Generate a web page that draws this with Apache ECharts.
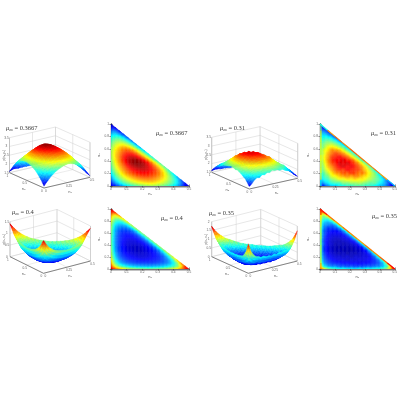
<!DOCTYPE html>
<html><head><meta charset="utf-8">
<style>html,body{margin:0;padding:0;background:#fff}#c{width:400px;height:400px}</style>
<script src="https://cdn.jsdelivr.net/npm/echarts@6/dist/echarts.min.js"></script></head>
<body><div id="c"></div>
<script>
// Rows run from n2=0 upward; each row runs from n1=0 to the hypotenuse. Values: % of colour scale.
const grid3667=[
[5,14,22,29,35,40,44,47,50,52,53,52,50,47,43,38,32,24,14,4],
[14,26,35,43,49,54,58,61,63,65,65,63,60,56,51,45,37,27,14],
[22,35,45,53,59,64,68,71,73,74,73,71,67,62,55,47,37,24],
[29,43,53,61,67,72,76,79,81,81,79,76,71,65,56,45,32],
[35,49,59,67,74,79,83,86,87,86,83,79,73,64,52,38],
[40,54,64,72,79,85,89,91,92,90,86,80,71,59,43],
[44,58,68,76,84,91,95,97,95,91,84,75,63,47],
[47,61,71,80,89,96,99,98,95,88,77,63,46],
[50,63,73,83,91,96,98,95,87,75,60,43],
[52,65,74,84,90,93,91,84,72,57,40],
[53,65,73,81,85,85,80,69,54,36],
[52,63,70,76,78,75,66,52,33],
[50,60,66,70,68,61,48,30],
[47,56,60,60,54,44,27],
[43,50,52,48,39,24],
[38,43,43,35,21],
[31,35,29,18],
[23,24,14],
[13,12],
[4]];
const grid31=[
[8,16,26,32,30,38,36,42,40,46,43,44,40,42,36,33,30,24,14,6],
[18,30,36,42,45,43,52,49,54,52,56,51,49,45,48,39,34,26,14],
[28,38,42,50,54,60,58,64,62,66,61,64,57,54,48,46,36,24],
[32,44,48,60,62,68,71,74,70,75,72,66,64,56,52,42,30],
[38,46,56,64,72,74,80,77,83,80,74,76,66,59,50,36],
[42,52,62,70,78,83,80,88,84,82,80,72,64,54,38],
[46,54,68,74,82,88,92,86,90,84,78,70,58,42],
[44,58,70,80,84,92,88,92,86,80,72,58,42],
[48,60,72,82,88,86,92,84,82,70,56,40],
[50,62,70,82,84,88,82,78,66,54,38],
[48,58,70,76,82,78,74,64,52,36],
[46,60,64,74,72,70,60,48,34],
[44,52,62,64,62,54,46,30],
[42,50,54,56,50,42,28],
[38,44,48,44,38,24],
[32,40,38,34,20],
[30,34,28,18],
[24,24,14],
[16,12],
[6]];
const grid4=[
[94,82,72,65,60,56,54,52,51,50,50,51,52,54,56,60,65,72,82,94],
[82,60,47,40,35,32,30,29,28,28,28,29,30,32,35,40,47,60,82],
[72,47,34,27,23,21,19,18,18,18,18,19,21,23,27,34,47,72],
[65,40,27,21,17,15,14,13,12,13,14,15,17,21,27,40,65],
[60,35,23,17,14,12,10,9,9,10,12,14,17,23,35,60],
[56,32,21,15,12,9,8,7,8,9,12,15,21,32,56],
[54,30,19,14,10,8,6,6,8,10,14,19,30,54],
[52,29,18,13,9,7,6,7,9,13,18,29,52],
[51,28,18,12,9,8,8,9,12,18,28,51],
[50,28,18,13,10,9,10,13,18,28,50],
[50,28,18,14,12,12,14,18,28,50],
[51,29,19,15,14,15,19,29,51],
[52,30,21,18,18,21,30,52],
[54,32,25,23,25,32,54],
[56,35,30,30,35,56],
[60,42,37,42,60],
[65,50,50,65],
[72,60,72],
[82,82],
[94]];
const grid35=[
[92,66,54,46,44,40,42,38,39,36,40,37,41,39,43,42,46,54,68,94],
[66,36,28,24,25,20,21,18,20,17,19,18,21,20,23,25,30,40,68],
[54,28,21,17,15,15,12,14,11,13,10,13,12,15,17,21,30,56],
[46,24,17,13,11,9,11,7,10,8,11,9,12,13,17,25,48],
[44,22,14,11,8,9,6,9,5,9,7,10,9,14,23,46],
[42,20,12,8,6,4,7,3,6,4,7,8,12,20,44],
[42,18,11,7,4,6,3,5,3,6,6,11,18,42],
[40,18,12,6,5,3,6,4,5,6,10,18,42],
[42,20,10,8,4,6,4,6,7,10,18,42],
[40,18,12,7,6,5,7,8,12,18,42],
[42,20,12,9,7,8,10,13,20,44],
[42,22,14,10,11,10,14,22,44],
[44,22,16,14,12,16,24,46],
[46,26,18,18,20,26,48],
[50,28,26,22,28,52],
[52,34,30,34,56],
[58,42,42,60],
[66,50,68],
[78,78],
[94]];
const edgeLeft31=[38,58,62,60,62,58,60,62,60,50];
const edgeHyp31=[40,72,76,74,78,76,74,76,72,30];
const edgeLeft35=[70,58,56,58,54,58,56,60,62,80];
const edgeHyp35=[85,76,72,76,74,72,76,74,78,88];
const muLabels=['0.3667','0.31','0.4','0.35'];
const xTicks2d=[0,0.1,0.2,0.3,0.4,0.5];
const yTicks2d=[0,0.2,0.4,0.6,0.8,1];
const n1Ticks3d=[0,0.25,0.5];
const n2Ticks3d=[0,0.5,1];
const zTicks3d=[['1.5','2','2.5','3','3.5'],['1.5','2','2.5','3','3.5'],['0','0.5','1','1.5'],['0','0.5','1','1.5','2']];

const panels=[
 {grid:grid3667,edgeL:null,edgeH:null,zs:1,title3:[6,125],title2:[156,130],
  o:[44,188],a:[46,-10.7],b:[-34.5,-15.3],h:35,rect:[111,124,78,62]},
 {grid:grid31,edgeL:edgeLeft31,edgeH:edgeHyp31,zs:0.85,title3:[220,125],title2:[371,130],
  o:[249.3,189],a:[48.4,-10.7],b:[-37.6,-16.7],h:35,rect:[320,124,78,62]},
 {grid:grid4,edgeL:null,edgeH:null,zs:1,title3:[12,209],title2:[161,215],
  o:[43.5,273.3],a:[47,-12.3],b:[-33.5,-16.6],h:35,rect:[111,209,78,60]},
 {grid:grid35,edgeL:edgeLeft35,edgeH:edgeHyp35,zs:0.92,title3:[209,210],title2:[372,213],
  o:[248.3,273.3],a:[49,-12.3],b:[-36.6,-16.6],h:35,rect:[320,209,78,60]}
];
const jetStops=[[0,[0,0,143]],[.125,[0,0,255]],[.375,[0,255,255]],[.625,[255,255,0]],[.875,[255,0,0]],[1,[128,0,0]]];
function jet(v){const t=Math.max(0,Math.min(1,v/100));
 for(let i=1;i<jetStops.length;i++){if(t<=jetStops[i][0]){const a=jetStops[i-1],b=jetStops[i],f=(t-a[0])/(b[0]-a[0]);
  return 'rgb('+a[1].map((c,k)=>Math.round(c+(b[1][k]-c)*f)).join(',')+')';}}
 return 'rgb(128,0,0)';}

const series=[],grids=[{left:0,top:0,width:400,height:400,show:false}],
 xAxes=[{gridIndex:0,type:'value',min:0,max:400,show:false}],
 yAxes=[{gridIndex:0,type:'value',min:0,max:400,inverse:true,show:false}],titles=[];
const tc='#3a3a3a';
const tStyle={fontFamily:'Liberation Serif',fontWeight:'normal',fontSize:6,color:tc,
 rich:{m:{fontFamily:'Liberation Serif',fontWeight:'normal',fontStyle:'italic',fontSize:6.5,color:tc},
       s:{fontFamily:'Liberation Serif',fontWeight:'normal',fontStyle:'italic',fontSize:4,color:tc,verticalAlign:'bottom',padding:[2,0,0,0]},
       n:{fontFamily:'Liberation Serif',fontWeight:'normal',fontSize:6.5,color:tc}}};

function lineSeries(segs,gi){return {type:'custom',xAxisIndex:gi,yAxisIndex:gi,silent:true,clip:false,animation:false,progressive:0,
 data:segs,renderItem:(p,api)=>{const s=api.coord([api.value(0),api.value(1)]),e=api.coord([api.value(2),api.value(3)]);
  return {type:'line',shape:{x1:s[0],y1:s[1],x2:e[0],y2:e[1]},style:{stroke:segs[p.dataIndex][4],lineWidth:segs[p.dataIndex][5]}};}};}

function textSeries(items){return {type:'custom',xAxisIndex:0,yAxisIndex:0,silent:true,clip:false,animation:false,progressive:0,
 data:items.map(t=>[t[0],t[1]]),renderItem:(p,api)=>{const c=api.coord([api.value(0),api.value(1)]),t=items[p.dataIndex];
  return {type:'text',x:c[0],y:c[1],rotation:t[4]||0,style:{text:t[2],fontSize:t[3],fill:'#666',fontFamily:'Liberation Sans',align:'center',verticalAlign:'middle'}};}};}

// Colour shading across a facet (like "shading interp"): the facet's four corners and values are the data.
const SUB=3;
function facetSeries(facets,gi,clip){return {type:'custom',xAxisIndex:gi,yAxisIndex:gi,silent:true,animation:false,progressive:0,clip:clip,
 data:facets,renderItem:(p,api)=>{
  const g=[0,1,2,3,4,5,6,7,8,9,10,11].map(k=>api.value(k));
  const bl=(s,t,a,b,c,d)=>(1-s)*(1-t)*a+s*(1-t)*b+s*t*c+(1-s)*t*d;
  const at=(s,t)=>[bl(s,t,g[0],g[2],g[4],g[6]),bl(s,t,g[1],g[3],g[5],g[7])];
  const kids=[];
  for(let m=0;m<SUB;m++)for(let n=0;n<SUB;n++){
   const s0=m/SUB,s1=(m+1)/SUB,t0=n/SUB,t1=(n+1)/SUB;
   const col=jet(bl((s0+s1)/2,(t0+t1)/2,g[8],g[9],g[10],g[11]));
   kids.push({type:'polygon',shape:{points:[at(s0,t0),at(s1,t0),at(s1,t1),at(s0,t1)].map(q=>api.coord(q))},style:{fill:col,stroke:col,lineWidth:.3}});
  }
  return {type:'group',children:kids};}};}

panels.forEach((P,pi)=>{
 const proj=(n1,n2,z)=>[P.o[0]+P.a[0]*n1/.5+P.b[0]*n2,P.o[1]+P.a[1]*n1/.5+P.b[1]*n2-P.h*z];
 const G='#cfcfcf',D='#555',segs=[];
 const L=(a,b,c,w)=>segs.push([a[0],a[1],b[0],b[1],c,w]);
 const ticksZ=zTicks3d[pi];
 ticksZ.forEach((t,k)=>{const z=k/(ticksZ.length-1);
  L(proj(0,1,z),proj(.5,1,z),G,.5);L(proj(.5,1,z),proj(.5,0,z),G,.5);});
 n1Ticks3d.forEach(n=>{L(proj(n,1,0),proj(n,1,1),G,.5);L(proj(n,0,0),proj(n,1,0),G,.4);});
 n2Ticks3d.forEach(n=>{L(proj(.5,n,0),proj(.5,n,1),G,.5);L(proj(0,n,0),proj(.5,n,0),G,.4);});
 L(proj(0,1,0),proj(0,1,1),'#aaa',.6);L(proj(.5,0,0),proj(.5,0,1),'#bbb',.5);
 series.push(lineSeries(segs,0));
 const rows=P.grid,N=rows.length-1,fac3=[],fac2=[];
 const vert=(i,j)=>proj(.5*i/N,j/N,rows[j][i]/100*P.zs);
 for(let j=0;j<N;j++)for(let i=0;i<rows[j].length-1;i++){
  const tri=i+1>=rows[j+1].length;
  const vs=tri?[[i,j],[i+1,j],[i,j+1],[i,j+1]]:[[i,j],[i+1,j],[i+1,j+1],[i,j+1]];
  const f3=[],f2=[],vals=vs.map(q=>rows[q[1]][q[0]]);
  vs.forEach(q=>{const c=vert(q[0],q[1]);f3.push(c[0],c[1]);f2.push(.5*q[0]/N,q[1]/N);});
  const item=f3.concat(vals);item.depth=-(P.a[1]*(i+.5)/N+P.b[1]*(j+.5)/N);
  fac3.push(item);
  fac2.push(f2.concat(vals));
 }
 fac3.sort((a,b)=>b.depth-a.depth);
 series.push(facetSeries(fac3.map(f=>Array.from(f)),0,false));
 const ax=[];const A=(a,b,w)=>ax.push([a[0],a[1],b[0],b[1],D,w]);
 A(proj(0,1,0),proj(0,0,0),.7);A(proj(0,0,0),proj(.5,0,0),.7);
 series.push(lineSeries(ax,0));
 const tx=[];
 n2Ticks3d.forEach(n=>{const q=proj(0,n,0);tx.push([q[0]-2,q[1]+3,String(n),3.2]);});
 n1Ticks3d.forEach(n=>{const q=proj(n,0,0);tx.push([q[0]+2,q[1]+3,String(n),3.2]);});
 ticksZ.forEach((t,k)=>{const q=proj(0,1,k/(ticksZ.length-1));tx.push([q[0]-3,q[1],t,3.2]);});
 const mid2=proj(0,.5,0),mid1=proj(.25,0,0),zm=proj(0,1,.5);
 tx.push([mid2[0]-3,mid2[1]+9,'n\u2082',4],[mid1[0]+3,mid1[1]+9,'n\u2081',4],[zm[0]-5.5,zm[1],'p(n\u2081,n\u2082)',3.2,Math.PI/2]);
 series.push(textSeries(tx));
 const ttl='{m|\u03bc}{s|ex}{n| = '+muLabels[pi]+'}';
 titles.push({text:ttl,left:P.title3[0],top:P.title3[1],padding:0,textStyle:tStyle});
 titles.push({text:ttl,left:P.title2[0],top:P.title2[1],padding:0,textStyle:tStyle});
 const gi=grids.length,r=P.rect;
 grids.push({left:r[0],top:r[1],width:r[2],height:r[3],show:false});
 const axL={show:true,lineStyle:{color:'#777',width:1.3}},
  tick={show:true,inside:true,length:1.6,lineStyle:{color:'#333',width:.5}},
  lab={show:true,fontSize:3.2,color:'#666',margin:2,fontFamily:'Liberation Sans',formatter:v=>String(+v.toFixed(1))};
 xAxes.push({gridIndex:gi,type:'value',min:xTicks2d[0],max:xTicks2d[5],interval:xTicks2d[1],position:'bottom',
  axisLine:axL,axisTick:tick,axisLabel:lab,splitLine:{show:false},name:'n\u2081',nameLocation:'middle',nameGap:5,nameTextStyle:{fontSize:4,color:'#555'}});
 yAxes.push({gridIndex:gi,type:'value',min:yTicks2d[0],max:yTicks2d[5],interval:yTicks2d[1],position:'left',
  axisLine:axL,axisTick:tick,axisLabel:lab,splitLine:{show:false},name:'n\u2082',nameLocation:'middle',nameGap:6,nameTextStyle:{fontSize:4,color:'#555'}});
 const xi=xAxes.length-1;
 xAxes.push({gridIndex:gi,type:'value',min:0,max:.5,interval:.1,position:'top',axisLine:axL,axisTick:tick,axisLabel:{show:false},splitLine:{show:false}});
 yAxes.push({gridIndex:gi,type:'value',min:0,max:1,interval:.2,position:'right',axisLine:axL,axisTick:tick,axisLabel:{show:false},splitLine:{show:false}});
 series.push(facetSeries(fac2,xi,true));
 const eseg=[];
 const addE=(arr,f)=>{if(arr)arr.forEach((v,k)=>{const a=f(k/arr.length),b=f((k+1)/arr.length);eseg.push([a[0],a[1],b[0],b[1],jet(v),1.2]);});};
 addE(P.edgeL,t=>[0.006,t]);
 addE(P.edgeH,t=>[.5*t,1-t]);
 if(eseg.length)series.push(lineSeries(eseg,xi));
});
const chart=echarts.init(document.getElementById('c'),null,{renderer:'canvas'});
chart.setOption({animation:false,backgroundColor:'#fff',title:titles,grid:grids,xAxis:xAxes,yAxis:yAxes,series:series});
</script></body></html>
